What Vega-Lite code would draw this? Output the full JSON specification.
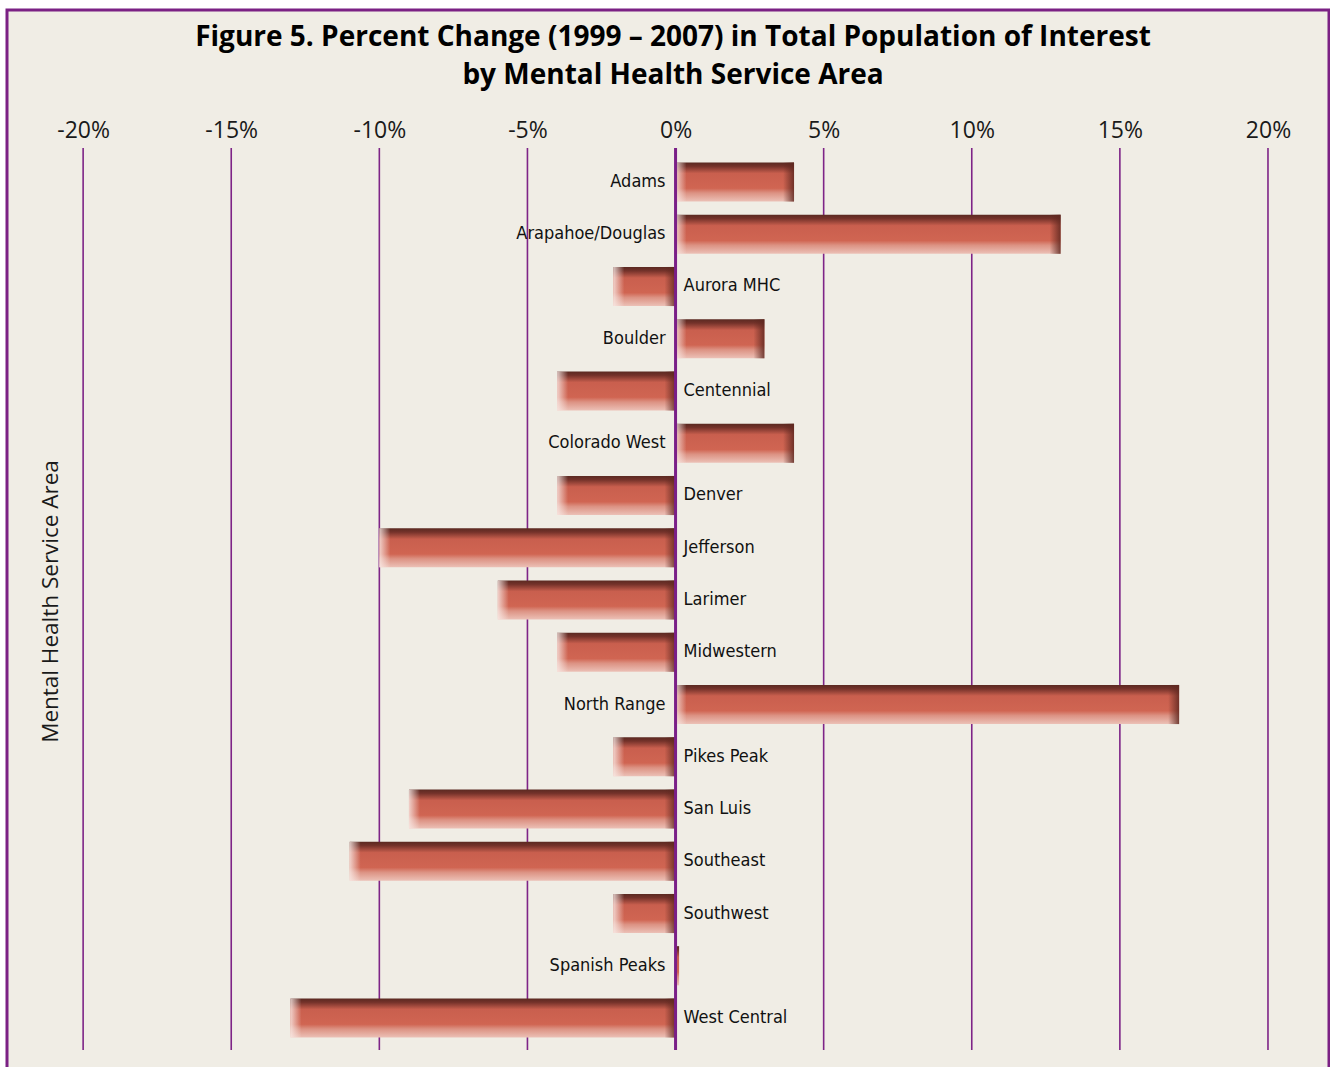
{
  "$schema": "https://vega.github.io/schema/vega-lite/v6.json",
  "width": 1322,
  "height": 1062,
  "autosize": {"type": "none"},
  "padding": {"left": 7, "top": 10, "right": 1, "bottom": 0},
  "background": "#ffffff",
  "config": {
    "view": {"fill": "#f0ede5", "stroke": "#7b2184", "strokeWidth": 3},
    "text": {"font": "DejaVu Sans Condensed"}
  },
  "title": {
    "text": ["Figure 5. Percent Change (1999 – 2007) in Total Population of Interest", "by Mental Health Service Area"],
    "font": "Open Sans",
    "fontSize": 28,
    "fontWeight": "bold",
    "color": "#000000",
    "lineHeight": 38,
    "anchor": "middle",
    "frame": "group",
    "baseline": "alphabetic",
    "offset": -102,
    "dx": 5
  },
  "datasets": {
    "areas": [
      {"area": "Adams", "v": 4},
      {"area": "Arapahoe/Douglas", "v": 13},
      {"area": "Aurora MHC", "v": -2.1},
      {"area": "Boulder", "v": 3},
      {"area": "Centennial", "v": -4},
      {"area": "Colorado West", "v": 4},
      {"area": "Denver", "v": -4},
      {"area": "Jefferson", "v": -10},
      {"area": "Larimer", "v": -6},
      {"area": "Midwestern", "v": -4},
      {"area": "North Range", "v": 17},
      {"area": "Pikes Peak", "v": -2.1},
      {"area": "San Luis", "v": -9},
      {"area": "Southeast", "v": -11},
      {"area": "Southwest", "v": -2.1},
      {"area": "Spanish Peaks", "v": 0.12},
      {"area": "West Central", "v": -13}
    ],
    "grid": [
      {"g": -20, "a": "Adams", "b": "West Central"},
      {"g": -15, "a": "Adams", "b": "West Central"},
      {"g": -10, "a": "Adams", "b": "West Central"},
      {"g": -5, "a": "Adams", "b": "West Central"},
      {"g": 5, "a": "Adams", "b": "West Central"},
      {"g": 10, "a": "Adams", "b": "West Central"},
      {"g": 15, "a": "Adams", "b": "West Central"},
      {"g": 20, "a": "Adams", "b": "West Central"}
    ],
    "zero": [
      {"g": 0, "a": "Adams", "b": "West Central"}
    ]
  },
  "encoding": {
    "y": {
      "field": "area",
      "type": "nominal",
      "scale": {
        "domain": ["Adams", "Arapahoe/Douglas", "Aurora MHC", "Boulder", "Centennial", "Colorado West", "Denver", "Jefferson", "Larimer", "Midwestern", "North Range", "Pikes Peak", "San Luis", "Southeast", "Southwest", "Spanish Peaks", "West Central"],
        "range": [152.4, 1027.6],
        "paddingInner": 0.25,
        "paddingOuter": 0,
        "round": false
      },
      "axis": {
        "orient": "left",
        "offset": -76,
        "labels": false,
        "ticks": false,
        "domain": false,
        "grid": false,
        "title": "Mental Health Service Area",
        "titleFont": "Open Sans",
        "titleFontSize": 22.5,
        "titleFontWeight": "normal",
        "titleColor": "#1a1a1a",
        "titleBaseline": "alphabetic",
        "titlePadding": 26,
        "titleY": 591
      }
    }
  },
  "layer": [
    {
      "data": {"name": "grid"},
      "mark": {"type": "rule", "color": "#7e2487", "strokeWidth": 1.6, "yOffset": -34, "y2Offset": 32},
      "encoding": {
        "x": {
          "field": "g",
          "type": "quantitative",
          "scale": {"domain": [-22.57, 22.06], "nice": false, "zero": false},
          "axis": {
            "orient": "top",
            "offset": -138,
            "values": [-20, -15, -10, -5, 0, 5, 10, 15, 20],
            "labelExpr": "datum.value + '%'",
            "labelFont": "Open Sans",
            "labelFontSize": 23,
            "labelColor": "#1a1a1a",
            "labelBaseline": "alphabetic",
            "labelPadding": 11,
            "ticks": false,
            "tickSize": 0,
            "domain": false,
            "grid": false,
            "title": null
          }
        },
        "y": {"field": "a", "type": "nominal"},
        "y2": {"field": "b"}
      }
    },
    {
      "data": {"name": "areas"},
      "mark": {
        "type": "bar",
        "color": {
          "gradient": "linear", "x1": 0, "y1": 0, "x2": 0, "y2": 1,
          "stops": [
            {"offset": 0, "color": "#5a2921"},
            {"offset": 0.1, "color": "#74322a"},
            {"offset": 0.28, "color": "#c95f4e"},
            {"offset": 0.66, "color": "#d06552"},
            {"offset": 0.78, "color": "#dc9283"},
            {"offset": 1, "color": "#ecc1b7"}
          ]
        }
      },
      "encoding": {
        "x": {"field": "v", "type": "quantitative"},
        "x2": {"datum": 0}
      }
    },
    {
      "data": {"name": "areas"},
      "transform": [{"filter": "datum.v >= 1"}],
      "mark": {
        "type": "bar", "xOffset": -11,
        "color": {"gradient": "linear", "x1": 0, "y1": 0, "x2": 1, "y2": 0,
          "stops": [{"offset": 0, "color": "rgba(95,40,32,0)"}, {"offset": 1, "color": "rgba(95,40,32,0.85)"}]}
      },
      "encoding": {
        "x": {"field": "v", "type": "quantitative"},
        "x2": {"field": "v"}
      }
    },
    {
      "data": {"name": "areas"},
      "transform": [{"filter": "datum.v >= 1"}],
      "mark": {
        "type": "bar", "x2Offset": 11,
        "color": {"gradient": "linear", "x1": 0, "y1": 0, "x2": 1, "y2": 0,
          "stops": [{"offset": 0, "color": "rgba(250,236,232,0.8)"}, {"offset": 1, "color": "rgba(250,236,232,0)"}]}
      },
      "encoding": {
        "x": {"datum": 0},
        "x2": {"datum": 0}
      }
    },
    {
      "data": {"name": "areas"},
      "transform": [{"filter": "datum.v <= -1"}],
      "mark": {
        "type": "bar", "xOffset": -11,
        "color": {"gradient": "linear", "x1": 0, "y1": 0, "x2": 1, "y2": 0,
          "stops": [{"offset": 0, "color": "rgba(95,40,32,0)"}, {"offset": 1, "color": "rgba(95,40,32,0.85)"}]}
      },
      "encoding": {
        "x": {"datum": 0},
        "x2": {"datum": 0}
      }
    },
    {
      "data": {"name": "areas"},
      "transform": [{"filter": "datum.v <= -1"}],
      "mark": {
        "type": "bar", "x2Offset": 11,
        "color": {"gradient": "linear", "x1": 0, "y1": 0, "x2": 1, "y2": 0,
          "stops": [{"offset": 0, "color": "rgba(250,236,232,0.8)"}, {"offset": 1, "color": "rgba(250,236,232,0)"}]}
      },
      "encoding": {
        "x": {"field": "v", "type": "quantitative"},
        "x2": {"field": "v"}
      }
    },
    {
      "data": {"name": "zero"},
      "mark": {"type": "rule", "color": "#7a1f87", "strokeWidth": 3, "yOffset": -34, "y2Offset": 32},
      "encoding": {
        "x": {"field": "g", "type": "quantitative"},
        "y": {"field": "a", "type": "nominal"},
        "y2": {"field": "b"}
      }
    },
    {
      "data": {"name": "areas"},
      "transform": [{"filter": "datum.v > 0"}],
      "mark": {"type": "text", "align": "right", "baseline": "middle", "dx": -10, "fontSize": 18, "color": "#111111"},
      "encoding": {
        "x": {"datum": 0},
        "text": {"field": "area"}
      }
    },
    {
      "data": {"name": "areas"},
      "transform": [{"filter": "datum.v < 0"}],
      "mark": {"type": "text", "align": "left", "baseline": "middle", "dx": 8, "fontSize": 18, "color": "#111111"},
      "encoding": {
        "x": {"datum": 0},
        "text": {"field": "area"}
      }
    }
  ]
}
